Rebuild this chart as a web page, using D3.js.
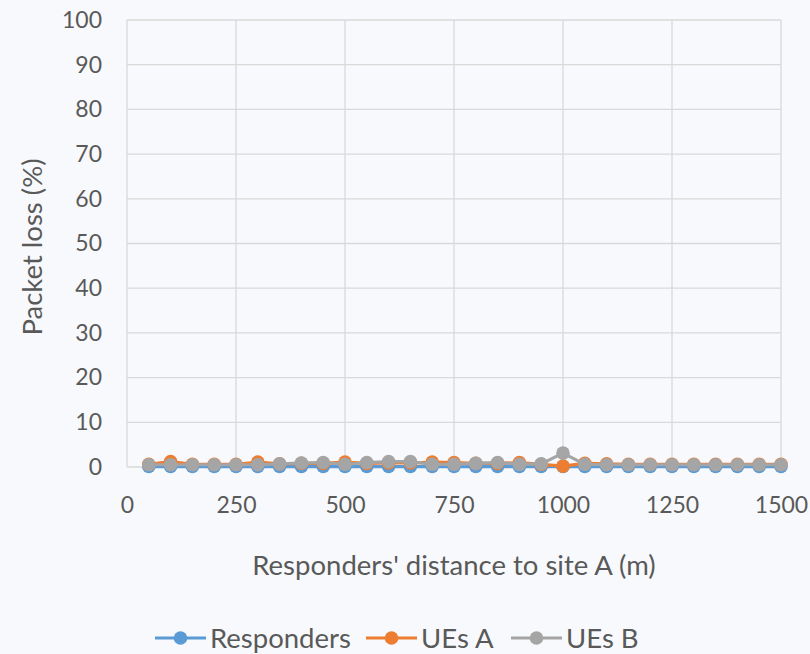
<!DOCTYPE html>
<html><head><meta charset="utf-8">
<script src="https://cdn.jsdelivr.net/npm/d3@7"></script>
<style>body{margin:0;background:#fff;}svg{display:block;}</style>
</head><body>
<svg id="chart" width="810" height="654"></svg>
<script>
const distances = [50,100,150,200,250,300,350,400,450,500,550,600,650,700,750,800,850,900,950,1000,1050,1100,1150,1200,1250,1300,1350,1400,1450,1500];
const responders = [0.1,0.1,0.1,0.1,0.1,0.1,0.1,0.1,0.1,0.1,0.1,0.1,0.1,0.1,0.1,0.1,0.1,0.1,0.1,0.1,0.1,0.1,0.1,0.1,0.1,0.1,0.1,0.1,0.1,0.1];
const uesA = [0.6,1.2,0.6,0.6,0.6,1.1,0.7,0.8,0.8,1.1,0.8,0.9,0.9,1.1,1.0,0.8,0.8,1.0,0.6,0.2,0.8,0.7,0.6,0.6,0.6,0.6,0.6,0.6,0.6,0.6];
const uesB = [0.5,0.5,0.5,0.5,0.5,0.5,0.7,0.9,1.0,0.6,1.0,1.2,1.2,0.6,0.6,0.8,1.0,0.6,0.7,3.1,0.6,0.5,0.5,0.5,0.5,0.5,0.5,0.5,0.5,0.5];
const xTicks = [0,250,500,750,1000,1250,1500];
const yTicks = [0,10,20,30,40,50,60,70,80,90,100];
const seriesNames = ["Responders","UEs A","UEs B"];
const seriesColors = ["#5b9bd5","#ed7d31","#a5a5a5"];

const svg = d3.select("#chart");
const font = "Lato, sans-serif";
svg.append("rect").attr("width",810).attr("height",654).attr("fill","#f8f9fc");

const x = d3.scaleLinear().domain([0,1500]).range([127,781]);
const y = d3.scaleLinear().domain([0,100]).range([467,20]);

svg.append("g").selectAll("line").data(yTicks).join("line")
  .attr("x1",x(0)).attr("x2",x(1500)).attr("y1",d=>y(d)).attr("y2",d=>y(d))
  .attr("stroke","#d9d9d9").attr("stroke-width",1.3);
svg.append("g").selectAll("line").data(xTicks).join("line")
  .attr("x1",d=>x(d)).attr("x2",d=>x(d)).attr("y1",y(0)).attr("y2",y(100))
  .attr("stroke","#d9d9d9").attr("stroke-width",1.3);

const yAxis = svg.append("g").attr("transform",`translate(${x(0)},0)`)
  .call(d3.axisLeft(y).tickValues(yTicks).tickFormat(d3.format("d")).tickSize(0).tickPadding(25));
const xAxis = svg.append("g").attr("transform",`translate(0,${y(0)})`)
  .call(d3.axisBottom(x).tickValues(xTicks).tickFormat(d3.format("d")).tickSize(0).tickPadding(30));
[yAxis,xAxis].forEach(a=>{
  a.select(".domain").remove();
  a.selectAll("text").attr("fill","#595959").style("font-family",font).style("font-size","23px");
});

svg.append("text").attr("x",454).attr("y",575).attr("text-anchor","middle")
  .attr("fill","#595959").style("font-family",font).style("font-size","27.5px")
  .text("Responders' distance to site A (m)");
svg.append("text").attr("transform","translate(42,247) rotate(-90)").attr("text-anchor","middle")
  .attr("fill","#595959").style("font-family",font).style("font-size","27.5px")
  .text("Packet loss (%)");

const allSeries = [responders,uesA,uesB];
const line = d3.line().x((d,i)=>x(distances[i])).y(d=>y(d));
allSeries.forEach((vals,k)=>{
  const g = svg.append("g");
  g.append("path").datum(vals).attr("d",line).attr("fill","none")
    .attr("stroke",seriesColors[k]).attr("stroke-width",3.2).attr("stroke-linejoin","round");
  g.selectAll("circle").data(vals).join("circle")
    .attr("cx",(d,i)=>x(distances[i])).attr("cy",d=>y(d)).attr("r",6.8)
    .attr("fill",seriesColors[k]);
});

const legX = [155,366,511];
const lg = svg.append("g");
seriesNames.forEach((n,k)=>{
  const gx = legX[k];
  lg.append("line").attr("x1",gx).attr("x2",gx+51).attr("y1",638).attr("y2",638)
    .attr("stroke",seriesColors[k]).attr("stroke-width",3.2);
  lg.append("circle").attr("cx",gx+25.5).attr("cy",638).attr("r",6.8).attr("fill",seriesColors[k]);
  lg.append("text").attr("x",gx+55).attr("y",648).attr("fill","#595959")
    .style("font-family",font).style("font-size","27.5px").text(n);
});
</script>
</body></html>
